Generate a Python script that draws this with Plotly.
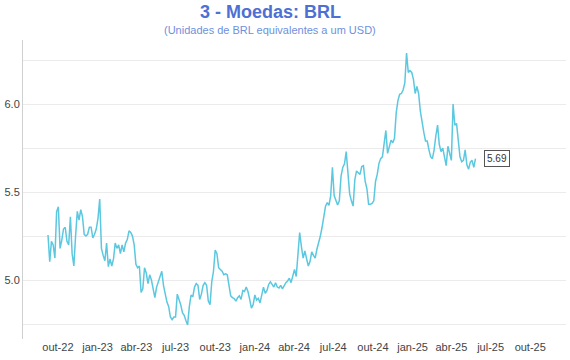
import pandas as pd
import plotly.graph_objects as go

start_date = "2022-09-08"
step = "4D"
brl_values = [
    5.256, 5.104, 5.22, 5.20, 5.125, 5.388, 5.417, 5.18, 5.227, 5.29,
    5.30, 5.22, 5.20, 5.36, 5.15, 5.08, 5.25, 5.39, 5.34, 5.40,
    5.36, 5.26, 5.25, 5.26, 5.30, 5.30, 5.24, 5.26, 5.29, 5.35,
    5.46, 5.18, 5.14, 5.11, 5.21, 5.076, 5.12, 5.08, 5.12, 5.21,
    5.18, 5.20, 5.15, 5.20, 5.16, 5.21, 5.23, 5.28, 5.27, 5.25,
    5.20, 5.09, 5.07, 5.08, 4.93, 4.95, 5.07, 5.04, 4.98, 5.03,
    5.00, 4.95, 4.90, 4.96, 4.99, 5.02, 5.05, 4.97, 4.92, 4.875,
    4.85, 4.79, 4.775, 4.79, 4.79, 4.92, 4.89, 4.86, 4.815, 4.80,
    4.77, 4.745, 4.85, 4.915, 4.905, 4.96, 4.98, 4.97, 4.89, 4.92,
    4.97, 4.985, 4.97, 4.88, 4.86, 4.99, 5.05, 5.17, 5.15, 5.07,
    5.06, 5.05, 5.03, 5.035, 5.03, 4.96, 4.91, 4.90, 4.895, 4.88,
    4.90, 4.91, 4.89, 4.94, 4.935, 4.96, 4.935, 4.89, 4.84, 4.86,
    4.915, 4.886, 4.896, 4.87, 4.925, 4.96, 4.925, 4.94, 4.975, 4.99,
    4.975, 4.96, 4.985, 4.96, 4.955, 4.97, 4.95, 4.97, 4.985, 4.995,
    5.01, 4.985, 5.03, 5.06, 5.02, 5.15, 5.27, 5.19, 5.125, 5.165,
    5.115, 5.08, 5.105, 5.16, 5.14, 5.125, 5.175, 5.21, 5.25, 5.30,
    5.37, 5.42, 5.44, 5.425, 5.48, 5.64, 5.48, 5.45, 5.427, 5.45,
    5.59, 5.64, 5.66, 5.73, 5.62, 5.49, 5.45, 5.42, 5.57, 5.62,
    5.61, 5.60, 5.645, 5.65, 5.56, 5.52, 5.43, 5.43, 5.435, 5.45,
    5.56, 5.60, 5.663, 5.69, 5.70, 5.78, 5.85, 5.72, 5.757, 5.795,
    5.78, 5.805, 5.95, 6.02, 6.055, 6.06, 6.08, 6.12, 6.29, 6.18,
    6.19, 6.18, 6.14, 6.06, 6.10, 6.06, 5.96, 5.89, 5.84, 5.79,
    5.79, 5.74, 5.70, 5.69, 5.74, 5.82, 5.88, 5.77, 5.73, 5.75,
    5.70, 5.65, 5.76, 5.72, 5.68, 6.00, 5.88, 5.89, 5.81, 5.70,
    5.672, 5.68, 5.74, 5.655, 5.63, 5.67, 5.68, 5.64, 5.69,
]
dates = pd.date_range(start_date, periods=len(brl_values), freq=step)

tick_dates = ["2022-10-01", "2023-01-01", "2023-04-01", "2023-07-01", "2023-10-01",
              "2024-01-01", "2024-04-01", "2024-07-01", "2024-10-01", "2025-01-01",
              "2025-04-01", "2025-07-01", "2025-10-01"]
tick_labels = ["out-22", "jan-23", "abr-23", "jul-23", "out-23", "jan-24", "abr-24",
               "jul-24", "out-24", "jan-25", "abr-25", "jul-25", "out-25"]
y_tickvals = [4.75, 5.0, 5.25, 5.5, 5.75, 6.0, 6.25]
y_ticktext = ["", "5.0", "", "5.5", "", "6.0", ""]

title_text = "3 - Moedas: BRL"
subtitle_text = "(Unidades de BRL equivalentes a um USD)"

FONT = "Liberation Sans, Arial, sans-serif"

fig = go.Figure()
fig.add_trace(go.Scatter(
    x=dates, y=brl_values, mode="lines",
    line=dict(color="#5bc8e0", width=1.5),
    hoverinfo="x+y", showlegend=False,
))

fig.add_annotation(
    x=dates[-1], y=brl_values[-1], text=f"{brl_values[-1]:.2f}",
    showarrow=False, xanchor="left", xshift=8,
    font=dict(family=FONT, size=10, color="#333333"),
    bordercolor="#555555", borderwidth=1, borderpad=2, bgcolor="white",
)
fig.add_annotation(
    xref="paper", yref="paper", x=(270 - 23) / 543, y=(360 - 12 - 22) / 298,
    xanchor="center", yanchor="middle", showarrow=False,
    text=f"<b>{title_text}</b>",
    font=dict(family=FONT, size=18, color="#4e6fd3"),
)
fig.add_annotation(
    xref="paper", yref="paper", x=(270 - 23) / 543, y=(360 - 30 - 22) / 298,
    xanchor="center", yanchor="middle", showarrow=False,
    text=subtitle_text,
    font=dict(family=FONT, size=11, color="#6f8fdc"),
)

fig.update_layout(
    width=570, height=360,
    margin=dict(l=23, r=4, t=40, b=21, autoexpand=False),
    paper_bgcolor="white", plot_bgcolor="white",
    font=dict(family=FONT, size=11, color="#444444"),
    xaxis=dict(
        type="date", automargin=False,
        range=["2022-07-12", "2025-12-23"],
        tickvals=tick_dates, ticktext=tick_labels,
        showgrid=False, zeroline=False, showline=False, ticks="",
        tickfont=dict(size=11, color="#444444"),
    ),
    yaxis=dict(
        automargin=False,
        range=[4.665, 6.364],
        tickvals=y_tickvals, ticktext=y_ticktext,
        showgrid=True, gridcolor="#ebebeb", gridwidth=1,
        zeroline=False, showline=True, linecolor="#d0d0d0", linewidth=1,
        ticks="", tickfont=dict(size=11, color="#444444"),
    ),
)

fig.write_html("out.html", config={"displayModeBar": False},
               post_script="document.body.style.margin='0';")
